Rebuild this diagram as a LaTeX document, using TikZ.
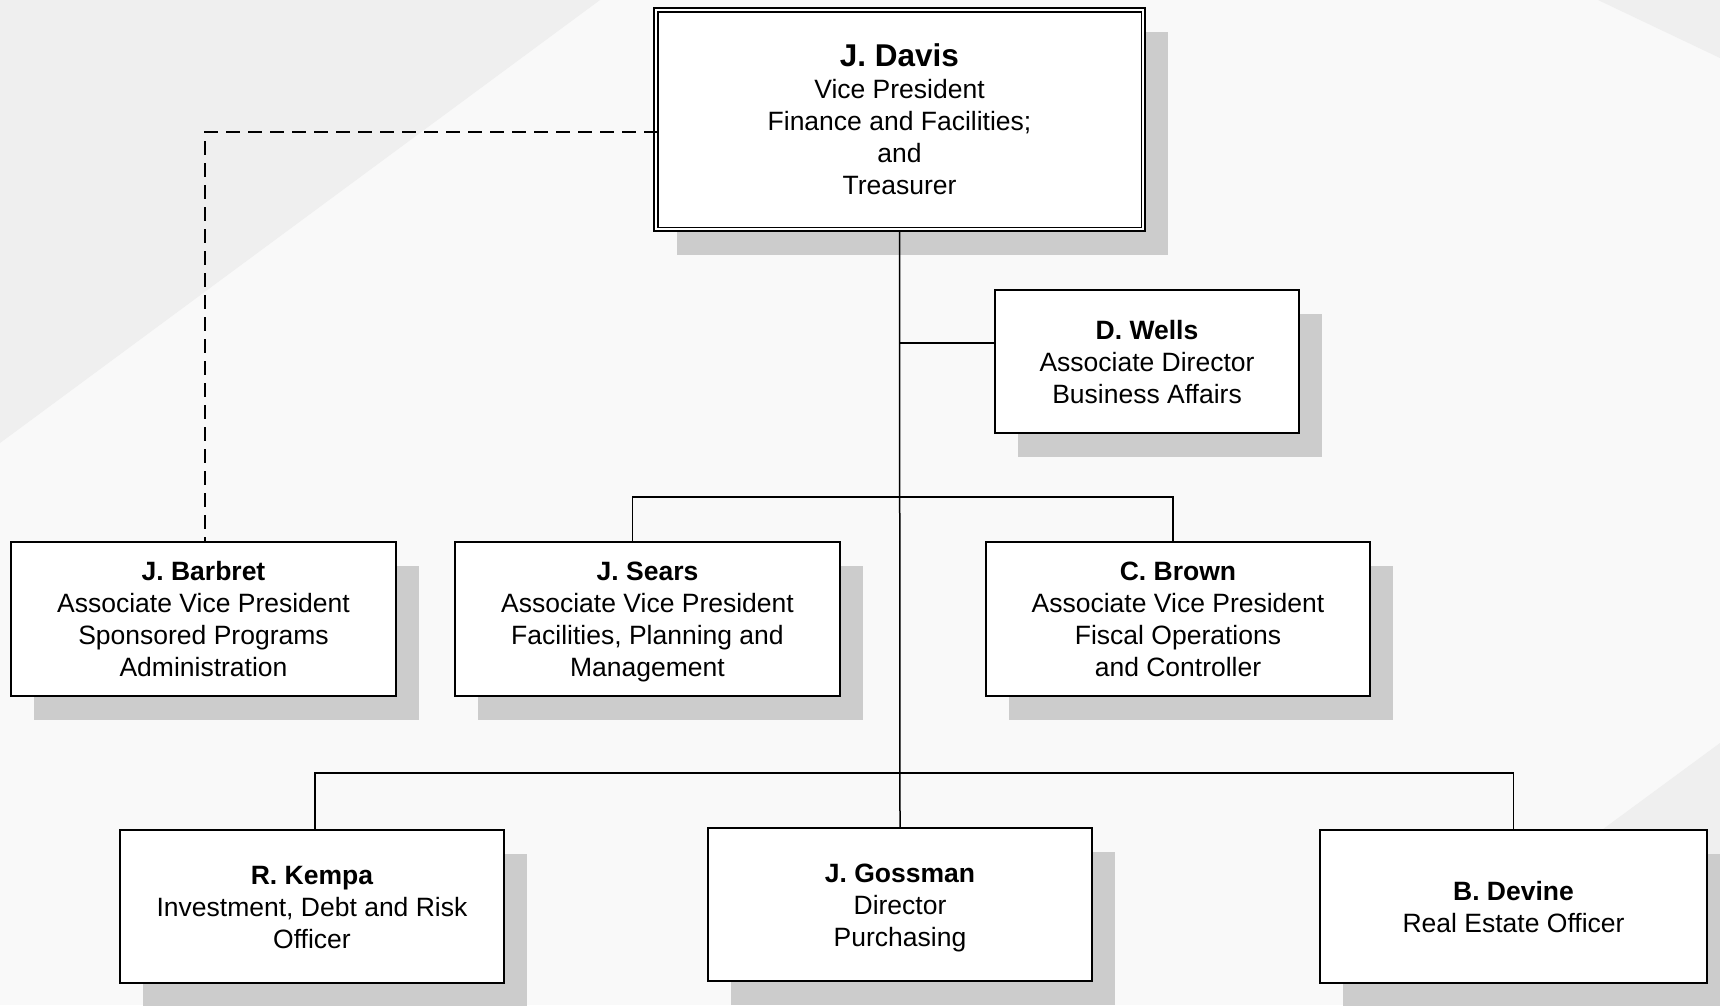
\documentclass[tikz,border=0pt]{standalone}
\usepackage{fontspec}
\setmainfont{Liberation Sans}
\usetikzlibrary{shadows}
\definecolor{bgmain}{HTML}{F9F9F9}
\definecolor{bgtri}{HTML}{EFEFEF}
\definecolor{shadowgray}{HTML}{CCCCCC}
\newcommand\mytopstrut{\rule{0pt}{28.6pt}}
\tikzset{
  orgbox/.style={draw, fill=white, line width=1.5pt, inner sep=0pt, align=center,
    font=\fontsize{26.5}{32}\selectfont,
    drop shadow={shadow xshift=23pt, shadow yshift=-24pt, fill=shadowgray, opacity=1}},
  conn/.style={line width=1.5pt},
  dashconn/.style={line width=1.5pt, dash pattern=on 14pt off 8pt}
}
\begin{document}
\begin{tikzpicture}[x=1pt, y=-1pt]
% background
\fill[bgmain] (0,0) rectangle (1720,1005);
\useasboundingbox (0,0) rectangle (1720,1005);
\fill[bgtri] (0,0) -- (600,0) -- (0,443) -- cycle;
\fill[bgtri] (1598,0) -- (1720,0) -- (1720,58) -- cycle;
\fill[bgtri] (1720,743) -- (1364,1005) -- (1720,1005) -- cycle;

% nodes
\node[orgbox, minimum width=491pt, minimum height=223pt] (davis) at (899.5,119.5)
  {{\fontsize{31.5}{36}\selectfont\bfseries\rule{0pt}{30.6pt}J. Davis}\\Vice President\\Finance and Facilities;\\and\\Treasurer\strut};
\draw[line width=1.5pt] ([shift={(4.5pt,-4.5pt)}]davis.north west) rectangle ([shift={(-4.5pt,4.5pt)}]davis.south east);

\node[orgbox, minimum width=304pt, minimum height=143pt] (wells) at (1147,361.5)
  {\textbf{\mytopstrut D. Wells}\\Associate Director\\Business Affairs\strut};

\node[orgbox, minimum width=385pt, minimum height=154pt] (barbret) at (203.5,619)
  {\textbf{\mytopstrut J. Barbret}\\Associate Vice President\\Sponsored Programs\\Administration\strut};
\node[orgbox, minimum width=385pt, minimum height=154pt] (sears) at (647.5,619)
  {\textbf{\mytopstrut J. Sears}\\Associate Vice President\\Facilities, Planning and\\Management\strut};
\node[orgbox, minimum width=384pt, minimum height=154pt] (brown) at (1178,619)
  {\textbf{\mytopstrut C. Brown}\\Associate Vice President\\Fiscal Operations\\and Controller\strut};

\node[orgbox, minimum width=384pt, minimum height=153pt] (kempa) at (312,906.5)
  {\textbf{\mytopstrut R. Kempa}\\Investment, Debt and Risk\\Officer\strut};
\node[orgbox, minimum width=384pt, minimum height=153pt] (gossman) at (900,904.5)
  {\textbf{\mytopstrut J. Gossman}\\Director\\Purchasing\strut};
\node[orgbox, minimum width=387pt, minimum height=153pt] (devine) at (1513.5,906.5)
  {\textbf{\mytopstrut B. Devine}\\Real Estate Officer\strut};

% connectors
\coordinate (wj) at (900,343);
\coordinate (b1) at (900,497);
\coordinate (b2) at (900,773);
\draw[conn] (davis.south) -- (gossman.north);
\draw[conn] (wj) -- (wj -| wells.west);
\draw[conn] ([xshift=-15pt]sears.north) |- (b1) -| ([xshift=-5pt]brown.north);
\draw[conn] ([xshift=3pt]kempa.north) |- (b2) -| (devine.north);
\draw[dashconn] ([shift={(4.5pt,-12.5pt)}]davis.west) -| ([xshift=1.5pt]barbret.north);
\end{tikzpicture}
\end{document}
